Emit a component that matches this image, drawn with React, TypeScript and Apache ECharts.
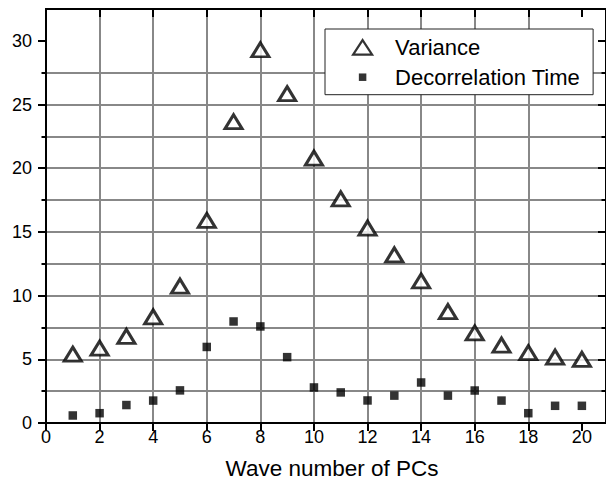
import React, { useEffect, useRef } from 'react';
import * as echarts from 'echarts';

// ---- data ----
const pcs = [1, 2, 3, 4, 5, 6, 7, 8, 9, 10, 11, 12, 13, 14, 15, 16, 17, 18, 19, 20];
const variance = [5.4, 5.87, 6.8, 8.33, 10.75, 15.9, 23.65, 29.3, 25.85, 20.8, 17.6, 15.3, 13.2, 11.15, 8.75, 7.07, 6.12, 5.52, 5.17, 5.0];
const decorrelation = [0.59, 0.77, 1.41, 1.76, 2.56, 5.97, 7.97, 7.58, 5.17, 2.79, 2.4, 1.77, 2.15, 3.18, 2.15, 2.55, 1.76, 0.77, 1.35, 1.35];
const seriesNames = ['Variance', 'Decorrelation Time'];
const xTickLabels = [0, 2, 4, 6, 8, 10, 12, 14, 16, 18, 20];
const yTickLabels = [0, 5, 10, 15, 20, 25, 30];
const yMinorTicks = [0, 2.5, 5, 7.5, 10, 12.5, 15, 17.5, 20, 22.5, 25, 27.5, 30];
const xTitle = 'Wave number of PCs';

const FONT = '"Liberation Sans", Arial, sans-serif';

export default function App() {
  const ref = useRef<HTMLDivElement>(null);
  useEffect(() => {
    document.body.style.margin = '0';
    if (!ref.current) return;
    const chart = echarts.init(ref.current, null, { renderer: 'svg' });
    const axisLine = { show: true, onZero: false, lineStyle: { color: '#000', width: 2 } };
    const tickStyle = { color: '#000', width: 2 };
    const gridLine = { show: true, showMinLine: false, showMaxLine: false, lineStyle: { color: '#888', width: 2 } };
    const yBase = { type: 'value', min: 0, max: 32.5 };
    const xBase = { type: 'value', min: 0, max: 20.9, interval: 2 };

    const triIcon = 'path://M0,0M54,24M26.5,4.5L36,19L17,19Z';
    const sqIcon = 'path://M0,0M54,24M22.75,8.25h7.5v7.5h-7.5Z';

    chart.setOption({
      animation: false,
      backgroundColor: '#fff',
      grid: { left: 46, top: 9, width: 565, height: 416 },
      xAxis: [
        {
          ...xBase,
          position: 'bottom',
          axisLine,
          axisTick: { show: true, inside: false, length: 8, lineStyle: tickStyle, customValues: xTickLabels },
          axisLabel: { show: true, margin: 5, fontFamily: FONT, fontSize: 18, color: '#000', customValues: xTickLabels },
          splitLine: gridLine,
          name: xTitle,
          nameLocation: 'middle',
          nameGap: 34,
          nameTextStyle: { fontFamily: FONT, fontSize: 22.5, color: '#000', padding: [0, 0, 0, 12] },
        },
        {
          ...xBase,
          position: 'top',
          axisLine,
          axisTick: { show: true, inside: true, length: 8, lineStyle: tickStyle, customValues: xTickLabels },
          axisLabel: { show: false },
          splitLine: { show: false },
          z: 3,
        },
      ],
      yAxis: [
        {
          ...yBase,
          interval: 2.5,
          position: 'left',
          axisLine,
          axisTick: { show: true, inside: false, length: 4.5, lineStyle: tickStyle, customValues: yMinorTicks },
          axisLabel: { show: false },
          splitLine: gridLine,
        },
        {
          ...yBase,
          interval: 5,
          position: 'left',
          axisLine,
          axisTick: { show: true, inside: false, length: 8, lineStyle: tickStyle, customValues: yTickLabels },
          axisLabel: { show: true, margin: 14, fontFamily: FONT, fontSize: 18, color: '#000', customValues: yTickLabels },
          splitLine: { show: false },
          z: 3,
        },
        {
          ...yBase,
          interval: 2.5,
          position: 'right',
          axisLine,
          axisTick: { show: true, inside: true, length: 4.5, lineStyle: tickStyle, customValues: yMinorTicks },
          axisLabel: { show: false },
          splitLine: { show: false },
          z: 3,
        },
        {
          ...yBase,
          interval: 5,
          position: 'right',
          axisLine,
          axisTick: { show: true, inside: true, length: 8, lineStyle: tickStyle, customValues: yTickLabels },
          axisLabel: { show: false },
          splitLine: { show: false },
          z: 3,
        },
      ],
      legend: {
        orient: 'vertical',
        left: 325,
        top: 29,
        padding: [5.5, 13, 5.5, 10],
        itemGap: 4.5,
        itemWidth: 54,
        itemHeight: 24,
        backgroundColor: '#fff',
        borderColor: '#222',
        borderWidth: 1,
        borderRadius: 0,
        selectedMode: false,
        textStyle: { fontFamily: FONT, fontSize: 22, color: '#000' },
        data: [
          { name: seriesNames[0], icon: triIcon, itemStyle: { color: '#fff', borderColor: '#000', borderWidth: 2.2 } },
          { name: seriesNames[1], icon: sqIcon, itemStyle: { color: '#000', borderWidth: 0 } },
        ],
      },
      series: [
        {
          name: seriesNames[1],
          type: 'scatter',
          xAxisIndex: 0,
          yAxisIndex: 0,
          symbol: 'rect',
          symbolSize: 8.5,
          itemStyle: { color: '#000' },
          data: pcs.map((p, i) => [p, decorrelation[i]]),
          z: 2,
        },
        {
          name: seriesNames[0],
          type: 'scatter',
          xAxisIndex: 0,
          yAxisIndex: 0,
          symbol: 'triangle',
          symbolSize: [17, 14],
          itemStyle: { color: '#fff', borderColor: '#000', borderWidth: 3 },
          data: pcs.map((p, i) => [p, variance[i]]),
          z: 3,
        },
      ],
    });
    return () => chart.dispose();
  }, []);
  return <div ref={ref} style={{ width: 606, height: 485 }} />;
}
